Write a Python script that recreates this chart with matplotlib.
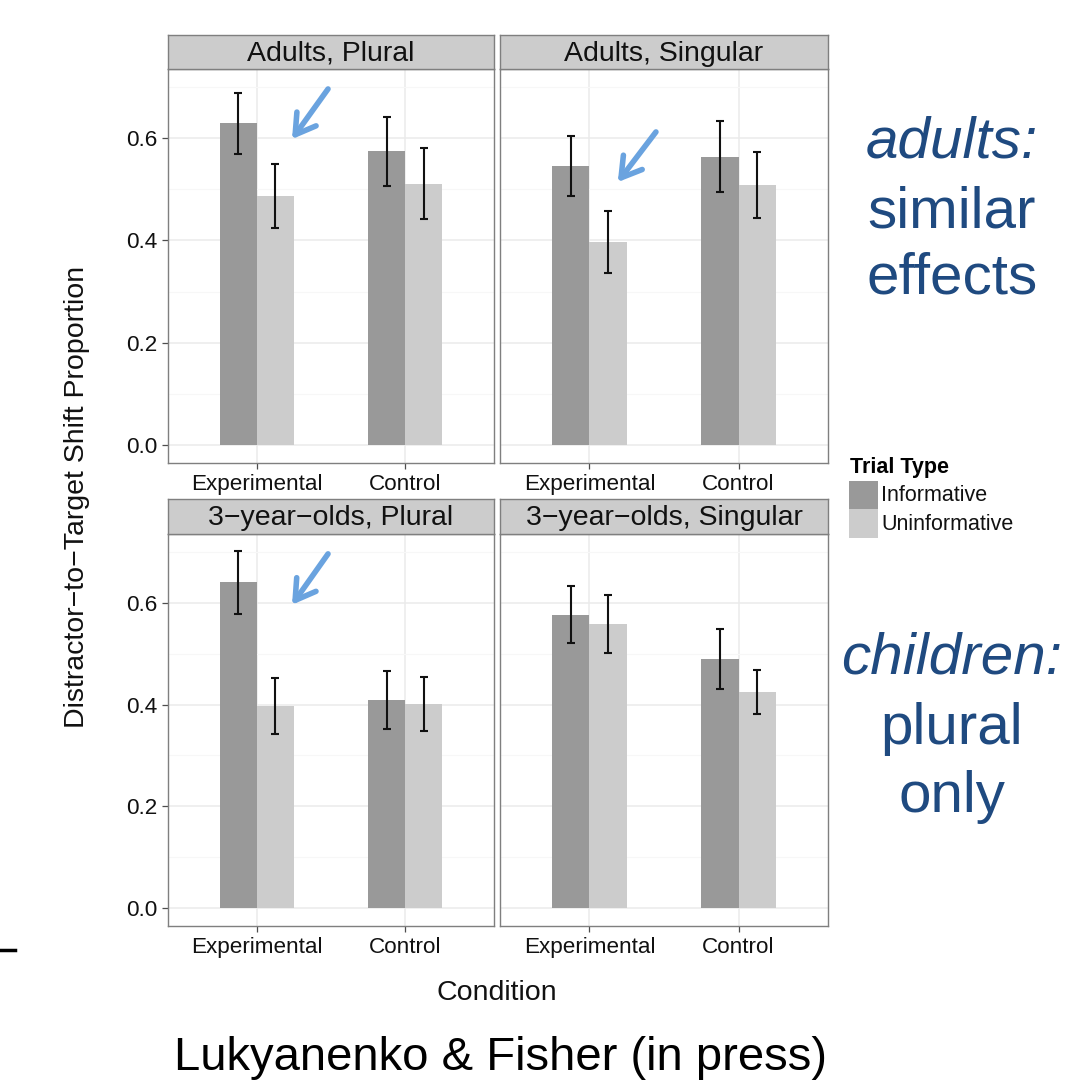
import matplotlib
matplotlib.use('Agg')
import matplotlib.pyplot as plt
import numpy as np
from matplotlib.patches import Rectangle
from matplotlib.lines import Line2D

plt.rcParams['font.family'] = ['Liberation Sans', 'DejaVu Sans']

W, H = 1087, 1083

conditions = ['Experimental', 'Control']
trial_types = ['Informative', 'Uninformative']
panel_titles = ['Adults, Plural', 'Adults, Singular',
                '3\u2212year\u2212olds, Plural', '3\u2212year\u2212olds, Singular']

# mean, lower and upper error bar values: [Experimental, Control]
inf_mean = [[0.629, 0.575], [0.545, 0.563], [0.640, 0.408], [0.576, 0.489]]
inf_lo = [[0.569, 0.506], [0.487, 0.494], [0.578, 0.351], [0.520, 0.430]]
inf_hi = [[0.689, 0.642], [0.605, 0.633], [0.702, 0.465], [0.633, 0.548]]
uni_mean = [[0.487, 0.510], [0.397, 0.508], [0.397, 0.401], [0.559, 0.424]]
uni_lo = [[0.425, 0.442], [0.336, 0.443], [0.342, 0.348], [0.502, 0.381]]
uni_hi = [[0.549, 0.580], [0.457, 0.572], [0.452, 0.455], [0.616, 0.468]]

# arrows (start x, start y, end x, end y) in data units, None = no arrow
arrows = [(1.48, 0.696, 1.237, 0.598), (1.446, 0.612, 1.19, 0.514),
          (1.48, 0.696, 1.237, 0.596), None]

inf_color = '#999999'
uni_color = '#cccccc'
text_blue = '#1f4a80'
arrow_blue = '#6aa3df'


def fig_rect(x0, y0, x1, y1):
    # pixel box (top-left origin) -> figure fraction rect
    return [x0 / W, 1 - y1 / H, (x1 - x0) / W, (y1 - y0) / H]


fig = plt.figure(figsize=(W / 100, H / 100), dpi=100)

cols = [(168, 494), (500, 828)]
rows = [(35, 69, 463), (499, 534, 926)]

x = np.arange(1, 3)
bw = 0.25

for i in range(4):
    r, c = divmod(i, 2)
    x0, x1 = cols[c]
    st, pt, pb = rows[r]

    ax = fig.add_axes(fig_rect(x0, pt, x1, pb))
    ax.set_xlim(0.4, 2.6)
    ax.set_ylim(-0.035, 0.735)
    ax.set_axisbelow(True)

    ax.set_yticks([0.0, 0.2, 0.4, 0.6])
    ax.set_yticks([0.1, 0.3, 0.5, 0.7], minor=True)
    ax.set_xticks(x)
    ax.set_xticklabels(conditions)
    ax.grid(which='major', color='#ebebeb', linewidth=1.1)
    ax.grid(which='minor', axis='y', color='#f7f7f7', linewidth=0.8)
    ax.tick_params(which='minor', length=0)
    ax.tick_params(which='major', length=4.3, width=0.9, color='#4d4d4d',
                   labelsize=16.2, labelcolor='#111111', pad=3.5)
    if c == 1:
        ax.tick_params(axis='y', labelleft=False, length=0)
    for s in ax.spines.values():
        s.set_color('#7f7f7f')
        s.set_linewidth(1.0)

    ax.bar(x - bw / 2, inf_mean[i], width=bw, color=inf_color, zorder=2)
    ax.bar(x + bw / 2, uni_mean[i], width=bw, color=uni_color, zorder=2)

    for xs, m, lo, hi in [(x - bw / 2, inf_mean[i], inf_lo[i], inf_hi[i]),
                          (x + bw / 2, uni_mean[i], uni_lo[i], uni_hi[i])]:
        m = np.array(m)
        err = [m - np.array(lo), np.array(hi) - m]
        ax.errorbar(xs, m, yerr=err, fmt='none', ecolor='#111111',
                    elinewidth=1.5, capsize=2.8, capthick=1.5, zorder=3)

    if arrows[i] is not None:
        ax0, ay0, ax1, ay1 = arrows[i]
        ax.annotate('', xy=(ax1, ay1), xytext=(ax0, ay0),
                    arrowprops=dict(arrowstyle='->, head_length=1.4, head_width=0.85',
                                    color=arrow_blue, lw=4.0,
                                    shrinkA=0, shrinkB=0), zorder=4)

    sax = fig.add_axes(fig_rect(x0, st, x1, pt))
    sax.set_facecolor('#cccccc')
    sax.set_xticks([])
    sax.set_yticks([])
    for s in sax.spines.values():
        s.set_color('#7f7f7f')
        s.set_linewidth(1.0)
    sax.text(0.5, 0.45, panel_titles[i], ha='center', va='center',
             fontsize=20.5, color='#111111', transform=sax.transAxes)

# axis titles
fig.text(497 / W, 1 - 1000 / H, 'Condition', ha='center', va='baseline',
         fontsize=20.5, color='#111111')
fig.text(77 / W, 1 - 497 / H, 'Distractor\u2212to\u2212Target Shift Proportion',
         rotation=90, ha='center', va='center', fontsize=20.5, color='#111111')

# legend (drawn by hand to match ggplot's key layout)
fig.text(850 / W, 1 - 473 / H, 'Trial Type', ha='left', va='baseline',
         fontsize=15.5, fontweight='bold', color='#000000')
for k, (lab, col) in enumerate(zip(trial_types, [inf_color, uni_color])):
    ky = 481 + k * 28.5
    fig.add_artist(Rectangle((849 / W, 1 - (ky + 28.5) / H), 29 / W, 28.5 / H,
                             facecolor=col, edgecolor='none',
                             transform=fig.transFigure))
    fig.text(881 / W, 1 - (ky + 14.5) / H, lab, ha='left', va='center',
             fontsize=15.5, color='#111111')

# annotations on the right
for txt, yb, style in [('adults:', 158, 'italic'), ('similar', 227, 'normal'),
                       ('effects', 293, 'normal'), ('children:', 673, 'italic'),
                       ('plural', 744, 'normal'), ('only', 812, 'normal')]:
    fig.text(952 / W, 1 - yb / H, txt, ha='center', va='baseline',
             fontsize=42, color=text_blue, style=style)

fig.text(500 / W, 1 - 1070 / H, 'Lukyanenko & Fisher (in press)',
         ha='center', va='baseline', fontsize=34, color='#000000')

fig.add_artist(Line2D([0, 15 / W], [1 - 950 / H, 1 - 950 / H],
                      color='black', linewidth=2.5))

fig.savefig('out.png', dpi=100)
